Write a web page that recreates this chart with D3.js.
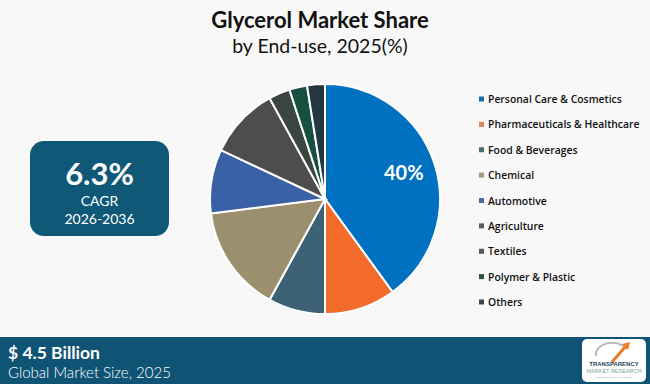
<!DOCTYPE html>
<html><head><meta charset="utf-8">
<script src="https://cdn.jsdelivr.net/npm/d3@7"></script>
<style>html,body{margin:0;padding:0;background:#f8f8f8;}svg{display:block;}</style>
</head><body>
<script>
const categories = ["Personal Care & Cosmetics","Pharmaceuticals & Healthcare","Food & Beverages","Chemical","Automotive","Agriculture","Textiles","Polymer & Plastic","Others"];
const shares = [40, 10, 8, 15, 9, 10, 3, 2.5, 2.5];
const colors = ["#0070c0","#f26b2a","#3e6275","#9c8f6e","#3a61a6","#4d4d4d","#3b4641","#174f40","#233642"];
const legendColors = ["#1a6ea8","#d9845a","#4e6c78","#a09c86","#4a6a98","#5c5c5c","#555555","#2a5246","#394548"];

const W = 650, H = 384;
const svg = d3.select("body").append("svg").attr("width", W).attr("height", H);
svg.append("rect").attr("width", W).attr("height", H).attr("fill", "#f8f8f8");

// Title
svg.append("text").attr("x", 320).attr("y", 28).attr("text-anchor", "middle")
  .attr("font-family", "Lato, 'Open Sans', sans-serif").attr("font-weight", 700).attr("font-size", 22)
  .attr("fill", "#111").text("Glycerol Market Share");
svg.append("text").attr("x", 320).attr("y", 53).attr("text-anchor", "middle")
  .attr("font-family", "Lato, 'Open Sans', sans-serif").attr("font-weight", 400).attr("font-size", 19.5)
  .attr("fill", "#111").text("by End-use, 2025(%)");

// Pie
const cx = 325, cy = 199, r = 115;
const pie = d3.pie().sort(null).value(d => d)(shares);
const arc = d3.arc().innerRadius(0).outerRadius(r);
const g = svg.append("g").attr("transform", `translate(${cx},${cy})`);
g.selectAll("path").data(pie).enter().append("path")
  .attr("d", arc).attr("fill", (d, i) => colors[i])
  .attr("stroke", "#ffffff").attr("stroke-width", 2);
const labelArc = d3.arc().innerRadius(r * 0.72).outerRadius(r * 0.72);
const p0 = labelArc.centroid(pie[0]);
g.append("text").attr("x", p0[0]).attr("y", p0[1] + 7).attr("text-anchor", "middle")
  .attr("font-family", "Lato, 'Open Sans', sans-serif").attr("font-weight", 700).attr("font-size", 20)
  .attr("fill", "#fff").text(shares[0] + "%");

// Legend
const ly = d3.scalePoint().domain(categories).range([99, 302]);
const lg = svg.append("g");
categories.forEach((c, i) => {
  lg.append("rect").attr("x", 479).attr("y", ly(c) - 2.5).attr("width", 5).attr("height", 5).attr("fill", legendColors[i]);
  lg.append("text").attr("x", 488).attr("y", ly(c) + 4)
    .attr("font-family", "'Open Sans', sans-serif").attr("font-weight", 600).attr("font-size", 10.4)
    .attr("fill", "#111").text(c);
});

// CAGR box
svg.append("rect").attr("x", 30).attr("y", 141).attr("width", 139).attr("height", 95).attr("rx", 14)
  .attr("fill", "#0f5877");
svg.append("text").attr("x", 99.5).attr("y", 185).attr("text-anchor", "middle")
  .attr("font-family", "Lato, sans-serif").attr("font-weight", 700).attr("font-size", 31).attr("fill", "#fff").text("6.3%");
svg.append("text").attr("x", 99.5).attr("y", 206).attr("text-anchor", "middle")
  .attr("font-family", "Lato, sans-serif").attr("font-weight", 400).attr("font-size", 14).attr("fill", "#fff").text("CAGR");
svg.append("text").attr("x", 99.5).attr("y", 224).attr("text-anchor", "middle")
  .attr("font-family", "Lato, sans-serif").attr("font-weight", 400).attr("font-size", 14).attr("fill", "#fff").text("2026-2036");

// Bottom banner
svg.append("rect").attr("x", 0).attr("y", 337).attr("width", W).attr("height", H - 337).attr("fill", "#0f5474");
svg.append("text").attr("x", 8).attr("y", 359)
  .attr("font-family", "Lato, sans-serif").attr("font-weight", 700).attr("font-size", 17.5).attr("fill", "#fff").text("$ 4.5 Billion");
svg.append("text").attr("x", 8).attr("y", 377.5)
  .attr("font-family", "Lato, sans-serif").attr("font-weight", 300).attr("font-size", 15).attr("fill", "#fff").text("Global Market Size, 2025");

// Logo
const logo = svg.append("g");
logo.append("rect").attr("x", 582).attr("y", 339).attr("width", 64).attr("height", 43).attr("rx", 5).attr("fill", "#fff");
logo.append("path").attr("d", "M596,356 A16,12 0 0 1 626,349").attr("fill", "none").attr("stroke", "#bbb").attr("stroke-width", 2);
logo.append("path").attr("d", "M612,362 L626,346").attr("fill", "none").attr("stroke", "#ee7a2a").attr("stroke-width", 3);
logo.append("path").attr("d", "M622,344 L630,342 L628,350 Z").attr("fill", "#ee7a2a");
logo.append("text").attr("x", 614).attr("y", 366).attr("text-anchor", "middle")
  .attr("font-family", "'Liberation Sans', sans-serif").attr("font-weight", 700).attr("font-size", 6).attr("fill", "#2b3f5a").text("TRANSPARENCY");
logo.append("text").attr("x", 614).attr("y", 373).attr("text-anchor", "middle")
  .attr("font-family", "'Liberation Sans', sans-serif").attr("font-size", 5.5).attr("fill", "#7aa88a").text("MARKET RESEARCH");
logo.append("text").attr("x", 614).attr("y", 378).attr("text-anchor", "middle")
  .attr("font-family", "'Liberation Sans', sans-serif").attr("font-size", 2.5).attr("fill", "#999").text("Insights that drive your business");
</script>
</body></html>
